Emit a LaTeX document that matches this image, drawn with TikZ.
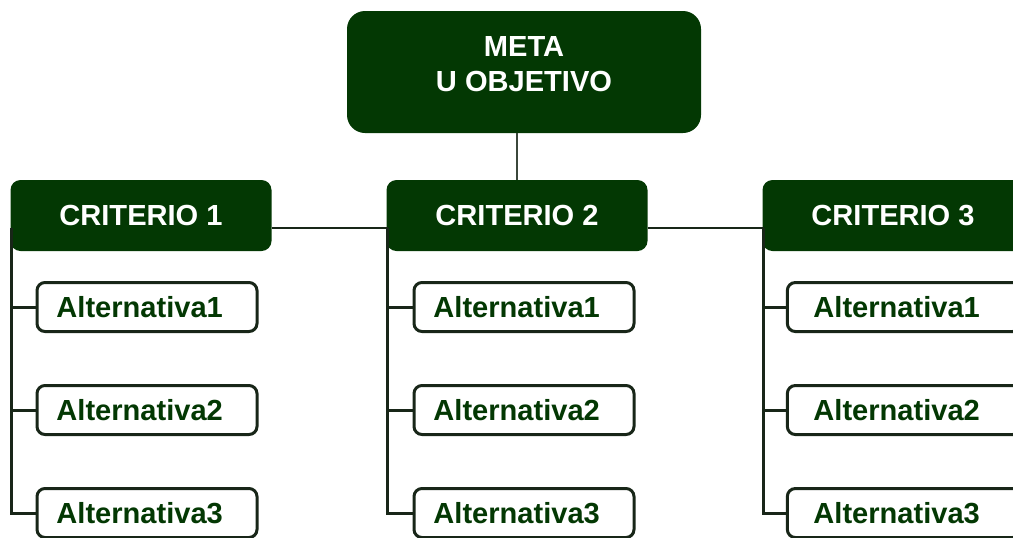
\documentclass[tikz,border=0pt]{standalone}
\usepackage{fontspec}
\setmainfont{Liberation Sans}
\definecolor{verde}{RGB}{3,56,3}
\definecolor{linea}{RGB}{24,38,24}
\tikzset{
  meta/.style={rectangle, rounded corners=13.5pt, fill=verde, text=white,
    font=\fontsize{21.8}{26.5}\selectfont\bfseries, align=center,
    text depth=12pt,
    minimum width=265.5pt, minimum height=91.5pt, inner sep=0pt},
  crit/.style={rectangle, rounded corners=7.5pt, fill=verde, text=white,
    font=\fontsize{21.8}{24}\selectfont\bfseries,
    minimum width=195.75pt, minimum height=53.25pt, inner sep=0pt},
  alt/.style={rectangle, rounded corners=6pt, draw=linea, line width=2.25pt,
    fill=white, text=verde, font=\fontsize{21.8}{24}\selectfont\bfseries,
    execute at end node={\hspace{11pt}},
    minimum width=165pt, minimum height=36.75pt, inner sep=0pt},
  rama/.style={draw=linea, line width=2.25pt},
  enlace/.style={draw=linea, line width=1.9pt},
  fina/.style={draw=linea!85!white, line width=1.1pt},
}
\begin{document}
\begin{tikzpicture}[x=0.75pt, y=-0.75pt]
      \useasboundingbox (0,0) rectangle (1013,537);
      \clip (0,0) rectangle (1013,537);
      \draw
        (524,72) node[meta] (meta){META\\U OBJETIVO}
        (141,215.5) node[crit] (c1){CRITERIO 1}
        (517,215.5) node[crit] (c2){CRITERIO 2}
        (893,215.5) node[crit] (c3){CRITERIO 3};
      \draw
        (147,307) node[alt] (a11){Alternativa1}
        (147,410) node[alt] (a12){Alternativa2}
        (147,513) node[alt] (a13){Alternativa3}
        (524,307) node[alt] (a21){Alternativa1}
        (524,410) node[alt] (a22){Alternativa2}
        (524,513) node[alt] (a23){Alternativa3}
        (904,307) node[alt, minimum width=175pt] (a31){Alternativa1}
        (904,410) node[alt, minimum width=175pt] (a32){Alternativa2}
        (904,513) node[alt, minimum width=175pt] (a33){Alternativa3};
      \coordinate (t1) at ([xshift=1.2pt,yshift=-9.5pt]c1.west);
      \coordinate (t2) at ([xshift=1.2pt,yshift=-9.5pt]c2.west);
      \coordinate (t3) at ([xshift=1.2pt,yshift=-9.5pt]c3.west);
      \begin{scope}[-]
        \draw[fina] (meta.south -| c2.north) to (c2.north);
        \draw[enlace] (t1 -| c1.east) to (t2);
        \draw[enlace] (t2 -| c2.east) to (t3);
        \draw[rama] (t1) |- (a13.west);
        \draw[rama] (a11.west) to (a11.west -| t1);
        \draw[rama] (a12.west) to (a12.west -| t1);
        \draw[rama] (t2) |- (a23.west);
        \draw[rama] (a21.west) to (a21.west -| t2);
        \draw[rama] (a22.west) to (a22.west -| t2);
        \draw[rama] (t3) |- (a33.west);
        \draw[rama] (a31.west) to (a31.west -| t3);
        \draw[rama] (a32.west) to (a32.west -| t3);
      \end{scope}
    \end{tikzpicture}
\end{document}
